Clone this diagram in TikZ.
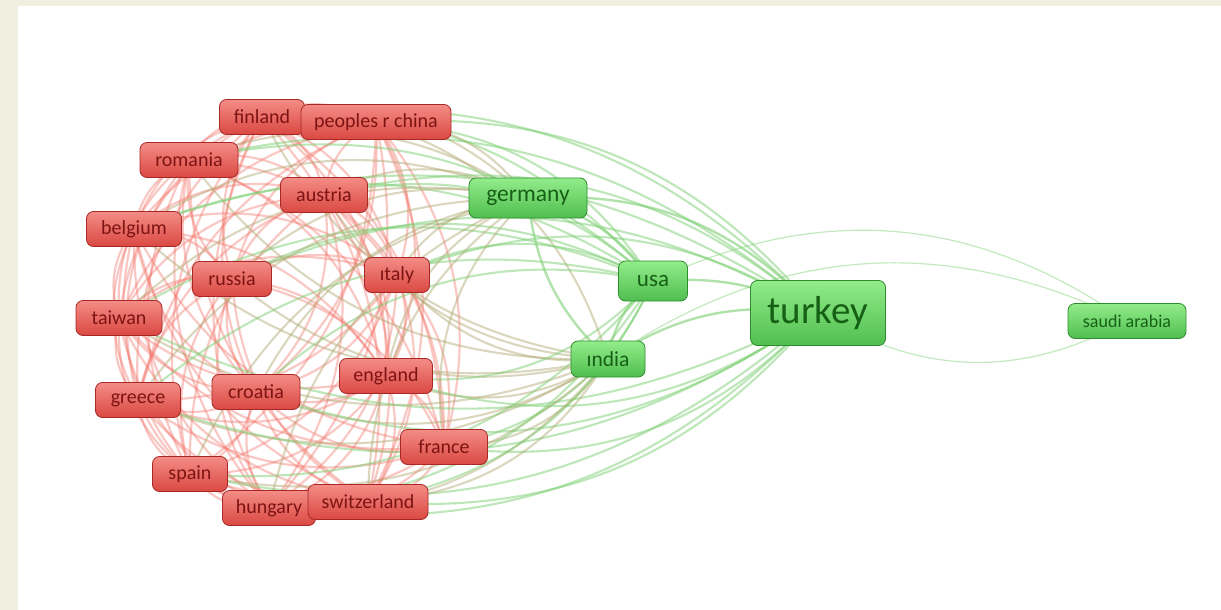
\documentclass[tikz,border=0pt]{standalone}
\usepackage{fontspec}
\setmainfont{Carlito}
\pgfdeclarelayer{bg}
\pgfdeclarelayer{edges}
\pgfsetlayers{bg,edges,main}
\definecolor{bgbeige}{RGB}{241,239,223}
\definecolor{redtop}{RGB}{244,140,134}
\definecolor{redbot}{RGB}{218,72,66}
\definecolor{redline}{RGB}{168,40,40}
\definecolor{redtext}{RGB}{125,20,20}
\definecolor{grntop}{RGB}{146,236,138}
\definecolor{grnbot}{RGB}{80,190,80}
\definecolor{grnline}{RGB}{46,140,46}
\definecolor{grntext}{RGB}{22,96,22}
\definecolor{redge}{RGB}{244,112,100}
\definecolor{oedge}{RGB}{176,168,112}
\definecolor{gedge}{RGB}{125,208,115}
\tikzset{
  basenode/.style={rounded corners=7pt, line width=0.8pt, inner sep=0pt},
  rednode/.style={basenode, top color=redtop, bottom color=redbot, draw=redline,
    text=redtext, minimum height=35pt, font=\fontsize{20}{20}\selectfont},
  grnnode/.style={basenode, top color=grntop, bottom color=grnbot, draw=grnline,
    text=grntext},
  rrline/.style={draw=redge, opacity=0.38, line width=2.2pt},
  rgline/.style={draw=oedge, opacity=0.45, line width=2.1pt},
  rtline/.style={draw=gedge, opacity=0.5, line width=2.1pt},
  ggline/.style={draw=gedge, opacity=0.6, line width=2.4pt},
  saline/.style={draw=gedge, opacity=0.45, line width=1.2pt}
}
\def\redlist{finland/262/117/85/finland, china/376/122/150/peoples r china,
 romania/189/160/98/romania, austria/324/195/87/austria, belgium/134/229/95/belgium,
 russia/232/279/79/russia, italy/397/275/65/ıtaly, taiwan/119/318/86/taiwan,
 greece/138/400/85/greece, croatia/256/392/88/croatia, england/386/376/93/england,
 france/444/447/87/france, spain/190/474/75/spain, hungary/269/508/93/hungary,
 switzerland/368/502/120/switzerland}
\begin{document}
\begin{tikzpicture}[x=1pt,y=-1pt]
\useasboundingbox (0,0) rectangle (1221,610);
\begin{pgfonlayer}{bg}
\fill[bgbeige] (0,0) rectangle (1221,610);
\fill[white] (18,6) rectangle (1221,610);
\end{pgfonlayer}
% red nodes
\foreach \n/\x/\y/\w/\t in \redlist {
  \node[rednode, minimum width=\w pt] (\n) at (\x,\y) {\t};
}
% green nodes
\node[grnnode, minimum width=118pt, minimum height=40pt, font=\fontsize{23.5}{23.5}\selectfont] (germany) at (528,198) {germany};
\node[grnnode, minimum width=69pt, minimum height=40pt, font=\fontsize{23}{23}\selectfont] (usa) at (653,281) {usa};
\node[grnnode, minimum width=74pt, minimum height=36pt, font=\fontsize{21.5}{21.5}\selectfont] (india) at (608,359) {ındia};
\node[grnnode, minimum width=135pt, minimum height=65pt, font=\fontsize{39}{39}\selectfont] (turkey) at (818,313) {turkey};
\node[grnnode, minimum width=118pt, minimum height=35pt, font=\fontsize{18}{18}\selectfont] (saudi) at (1127,321) {saudi arabia};
\begin{pgfonlayer}{edges}
% red-red
\foreach \a/\ax/\ay/\aw/\at [count=\i] in \redlist {
  \foreach \b/\bx/\by/\bw/\bt [count=\j] in \redlist {
    \ifnum\j>\i
      \pgfmathsetmacro\ang{((\bx-\ax)/100)*((310-(\ay+\by)/2)/100)-((\by-\ay)/100)*((270-(\ax+\bx)/2)/100)>0 ? 27 : -27}
      \draw[rrline] (\a.center) to[bend left=\ang] (\b.center);
    \fi
  }
}
% red-green
\foreach \a/\ax/\ay/\aw/\at in \redlist {
  \foreach \b/\bx/\by/\st in {germany/528/198/rgline, usa/653/281/rtline, india/608/359/rgline, turkey/818/313/rtline} {
    \pgfmathsetmacro\ang{((\bx-\ax)/100)*((310-(\ay+\by)/2)/100)-((\by-\ay)/100)*((560-(\ax+\bx)/2)/100)>0 ? 27 : -27}
    \draw[\st] (\a.center) to[bend left=\ang] (\b.center);
  }
}
% green-green
\draw[ggline] (germany.center) to[bend left=25] (turkey.center);
\draw[ggline] (germany.center) to[bend left=20] (usa.center);
\draw[ggline] (germany.center) to[bend right=20] (india.center);
\draw[ggline] (usa.center) to[bend right=20] (india.center);
\draw[ggline] (usa.center) to[bend left=15] (turkey.center);
\draw[ggline] (india.center) to[bend left=20] (turkey.center);
\draw[saline] (usa.center) to[bend left=30] (saudi.center);
\draw[saline] (india.center) to[bend left=30] (saudi.center);
\draw[saline] (turkey.center) to[bend right=30] (saudi.center);
\end{pgfonlayer}
\end{tikzpicture}
\end{document}
